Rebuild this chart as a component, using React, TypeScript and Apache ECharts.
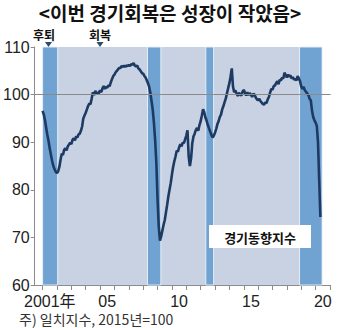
import React, { useEffect, useRef } from "react";
import * as echarts from "echarts";

// Monthly coincident index (2015=100), Jan..Dec per year
const v2001 = [96.6, 95.8, 94.6, 93.0, 91.5, 90.2, 88.6, 87.3, 86.0, 85.0, 84.3, 83.8];
const v2002 = [83.5, 83.9, 84.8, 86.3, 87.6, 87.3, 88.4, 88.7, 88.3, 89.1, 89.5, 89.9];
const v2003 = [89.6, 90.5, 90.8, 90.4, 91.2, 91.0, 91.6, 91.8, 92.4, 93.3, 95.0, 95.6];
const v2004 = [96.2, 96.9, 97.6, 98.1, 98.0, 99.2, 100.5, 99.9, 100.8, 100.1, 100.4, 100.3];
const v2005 = [100.9, 100.5, 101.3, 101.8, 101.2, 101.6, 101.5, 101.9, 101.8, 102.6, 103.3, 103.9];
const v2006 = [104.2, 104.7, 105.0, 105.3, 105.6, 105.6, 106.0, 105.8, 106.1, 105.8, 106.1, 106.0];
const v2007 = [106.2, 106.0, 106.4, 106.3, 106.6, 106.1, 105.9, 106.1, 105.5, 105.3, 104.9, 104.5];
const v2008 = [104.4, 103.9, 103.6, 103.0, 102.4, 101.6, 100.4, 98.6, 96.8, 94.0, 90.4, 85.6];
const v2009 = [78.0, 72.3, 69.3, 70.2, 71.4, 72.6, 73.6, 75.2, 76.8, 78.6, 80.0, 81.4];
const v2010 = [83.2, 84.8, 86.0, 87.0, 88.2, 88.0, 88.9, 89.6, 89.1, 89.9, 89.8, 90.6];
const v2011 = [91.4, 92.5, 87.0, 85.0, 86.6, 89.8, 91.2, 91.8, 92.6, 93.0, 92.4, 93.6];
const v2012 = [94.4, 95.6, 96.9, 96.3, 95.2, 94.5, 93.6, 92.9, 92.2, 91.5, 91.0, 91.4];
const v2013 = [92.0, 92.8, 93.8, 94.4, 95.3, 95.8, 96.9, 97.6, 98.4, 99.2, 100.3, 101.4];
const v2014 = [102.4, 103.8, 105.5, 101.7, 100.5, 100.9, 100.2, 99.7, 100.4, 100.0, 99.8, 100.6];
const v2015 = [101.0, 100.4, 99.8, 100.5, 99.9, 100.3, 100.0, 99.5, 100.2, 100.0, 99.4, 99.0];
const v2016 = [98.8, 99.1, 98.6, 98.3, 98.0, 97.9, 98.4, 98.2, 99.0, 99.5, 100.4, 101.2];
const v2017 = [101.0, 101.8, 101.9, 102.4, 102.8, 102.2, 103.1, 103.0, 103.5, 103.4, 104.6, 104.1];
const v2018 = [103.6, 104.2, 103.8, 104.0, 103.4, 103.7, 103.1, 103.3, 103.0, 103.9, 103.4, 102.8];
const v2019 = [101.7, 101.2, 101.6, 100.9, 100.6, 100.2, 99.9, 99.1, 98.8, 96.6, 95.3, 94.6];
const v2020 = [94.1, 93.4, 90.0, 82.0, 74.3];

const yearValues = [
  v2001, v2002, v2003, v2004, v2005, v2006, v2007, v2008, v2009, v2010,
  v2011, v2012, v2013, v2014, v2015, v2016, v2017, v2018, v2019, v2020,
];
const firstYear = 2001;

// Recession periods (shaded bands), in decimal years
const recessionStarts = [2001.0, 2008.3, 2012.36, 2018.88];
const recessionEnds = [2002.05, 2009.23, 2012.9, 2020.45];
const shadeStart = 2001.0;
const shadeEnd = 2020.45;

const tickYears = [2001, 2002, 2003, 2004, 2005, 2006, 2007, 2008, 2009, 2010, 2011, 2012, 2013, 2014, 2015, 2016, 2017, 2018, 2019, 2020, 2021];
const labelYears = [2001.5, 2005.5, 2010.5, 2015.5, 2020.5];
const labelTexts = ["2001年", "05", "10", "15", "20"];

export default function App() {
  const ref = useRef<HTMLDivElement>(null);
  useEffect(() => {
    document.body.style.margin = "0";
    const chart = echarts.init(ref.current!, null, { renderer: "svg" });
    const lineData: number[][] = [];
    yearValues.forEach((arr, yi) => {
      arr.forEach((v, m) => lineData.push([firstYear + yi + m / 12, v]));
    });
    const bands: any[] = [
      [
        { xAxis: shadeStart, itemStyle: { color: "#c8d2e3" } },
        { xAxis: shadeEnd },
      ],
    ];
    recessionStarts.forEach((s, i) => {
      bands.push([
        {
          xAxis: s,
          itemStyle: { color: "#70a2d2", borderColor: "rgba(235,242,250,0.9)", borderWidth: 1 },
        },
        { xAxis: recessionEnds[i] },
      ]);
    });
    const numFont = "'Liberation Sans Narrow', 'Arial Narrow', 'Liberation Sans', sans-serif";
    const kr = "'Noto Sans CJK KR', sans-serif";
    chart.setOption({
      animation: false,
      backgroundColor: "#ffffff",
      grid: { left: 32, right: 7.3, top: 47, bottom: 43 },
      xAxis: {
        type: "value",
        min: 2000.45,
        max: 2021.05,
        splitLine: { show: false },
        axisLine: { lineStyle: { color: "#8c8c8c", width: 1 } },
        axisTick: { show: true, customValues: tickYears, length: 5, lineStyle: { color: "#8c8c8c" } },
        axisLabel: {
          customValues: labelYears,
          formatter: (v: number) => {
            const i = labelYears.findIndex((x) => Math.abs(x - v) < 0.01);
            return i >= 0 ? labelTexts[i] : "";
          },
          color: "#222",
          fontSize: 16,
          fontFamily: numFont + ", 'Noto Sans CJK KR'",
          margin: 8,
        },
      },
      yAxis: {
        type: "value",
        min: 60,
        max: 110,
        interval: 10,
        splitLine: { show: false },
        axisLine: { show: true, lineStyle: { color: "#8c8c8c", width: 1 } },
        axisTick: { show: true, length: 4, lineStyle: { color: "#8c8c8c" } },
        axisLabel: { color: "#222", fontSize: 16, fontFamily: numFont, margin: 5 },
      },
      series: [
        {
          type: "line",
          data: [],
          markArea: { silent: true, data: bands },
          z: 1,
        },
        {
          type: "line",
          data: lineData,
          showSymbol: false,
          lineStyle: { color: "#1d3a63", width: 2.6 },
          z: 3,
          markLine: {
            silent: true,
            symbol: "none",
            label: { show: false },
            lineStyle: { color: "#8a8a8a", width: 1, type: "solid" },
            data: [{ yAxis: 100 }],
          },
        },
      ],
      graphic: [
        {
          type: "text",
          x: 170,
          y: 12,
          style: {
            text: "<이번 경기회복은 성장이 작았음>",
            font: `bold 19px ${kr}`,
            lineHeight: 20,
            fill: "#111",
            align: "center",
            verticalAlign: "middle",
          },
        },
        {
          type: "text",
          x: 44,
          y: 34,
          style: { text: "후퇴", font: `bold 12px ${kr}`, lineHeight: 12, fill: "#111", align: "center", verticalAlign: "middle" },
        },
        {
          type: "text",
          x: 100,
          y: 34,
          style: { text: "회복", font: `bold 12px ${kr}`, lineHeight: 12, fill: "#111", align: "center", verticalAlign: "middle" },
        },
        {
          type: "polygon",
          shape: { points: [[45, 42], [52, 42], [48.5, 47]] },
          style: { fill: "#2c4a6e" },
          z: 10,
        },
        {
          type: "polygon",
          shape: { points: [[96.5, 42], [103.5, 42], [100, 47]] },
          style: { fill: "#2c4a6e" },
          z: 10,
        },
        {
          type: "rect",
          shape: { x: 209, y: 225, width: 102, height: 23 },
          style: { fill: "#ffffff" },
          z: 10,
        },
        {
          type: "text",
          x: 260,
          y: 237,
          style: { text: "경기동향지수", font: `bold 13px ${kr}`, fill: "#111", align: "center", verticalAlign: "middle" },
          z: 11,
        },
        {
          type: "text",
          x: 19,
          y: 319,
          style: { text: "주) 일치지수, 2015년=100", font: `14px ${kr}`, fill: "#333", verticalAlign: "middle" },
        },
      ],
    });
    return () => chart.dispose();
  }, []);
  return <div ref={ref} style={{ width: 338, height: 328 }} />;
}
